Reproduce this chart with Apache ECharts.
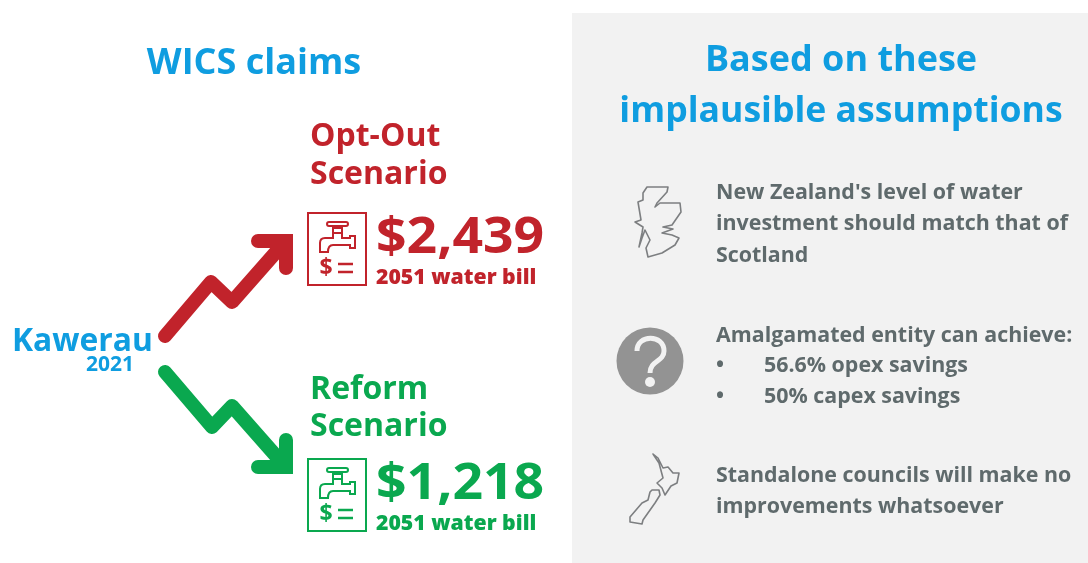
<!DOCTYPE html>
<html>
<head>
<meta charset="utf-8">
<title>WICS claims</title>
<script src="https://cdn.jsdelivr.net/npm/echarts@6/dist/echarts.min.js"></script>
<style>
  html, body { margin: 0; padding: 0; background: #fff; }
  #box { width: 1088px; height: 563px; }
</style>
</head>
<body>
<div id="box"></div>
<script>
// texts
const leftTitle = "WICS claims";
const rightTitle = ["Based on these", "implausible assumptions"];
const place = "Kawerau";
const placeYear = "2021";
const optOutName = ["Opt-Out", "Scenario"];
const reformName = ["Reform", "Scenario"];
const optOutBill = "$2,439";
const reformBill = "$1,218";
const billNote = "2051 water bill";
const scotlandText = ["New Zealand's level of water", "investment should match that of", "Scotland"];
const savingsText = "Amalgamated entity can achieve:";
const savingsBullets = ["56.6% opex savings", "50% capex savings"];
const standaloneText = ["Standalone councils will make no", "improvements whatsoever"];

// colours
const blue = "#0f9de0";
const red = "#c1232b";
const green = "#0aa84f";
const grey = "#5f6a6c";
const panel = "#f2f2f2";
const outline = "#7d7f81";

const font = '"Open Sans", sans-serif';

// the graphic component has no plain "path" type, so the curved shapes get registered
echarts.graphic.registerShape("tapBody", echarts.graphic.extendPath(
  "M12 39 L12 30 Q12 25 17 25 L25 25 L25 20 L34 20 L34 25 L42 25 L42 23 L47 23 L47 35 L42 35 L42 32 L25 32 Q20 32 20 39 Z", {}
));
echarts.graphic.registerShape("questionHook", echarts.graphic.extendPath(
  "M637 351 C637 334 664 334 664 351 C664 362 650 360 650 373", {}
));

function txt(text, x, y, size, color, opts) {
  opts = opts || {};
  return {
    type: "text",
    x: x,
    y: y,
    scaleX: opts.scaleX || 1,
    style: {
      text: text,
      x: 0,
      y: 0,
      fill: color,
      font: (opts.weight || 700) + " " + size + "px " + font,
      textAlign: opts.align || "left",
      textVerticalAlign: "middle",
    },
  };
}

function line(points, color, width, join) {
  return {
    type: "polyline",
    shape: { points: points },
    style: { stroke: color, lineWidth: width, lineCap: "round", lineJoin: join || "round", fill: null },
  };
}

// tap + "$=" bill icon, x/y is the top left of the box
function billIcon(x, y, color) {
  const stroke = { stroke: color, lineWidth: 2, fill: null };
  return {
    type: "group",
    x: x,
    y: y,
    children: [
      { type: "rect", shape: { x: 0, y: 0, width: 58, height: 72 }, style: { stroke: color, lineWidth: 2, fill: null } },
      { type: "rect", shape: { x: 19, y: 9, width: 21, height: 4, r: 2 }, style: stroke },
      { type: "rect", shape: { x: 27, y: 13, width: 5, height: 2 }, style: stroke },
      { type: "rect", shape: { x: 25, y: 15, width: 9, height: 5 }, style: stroke },
      { type: "tapBody", style: stroke },
      { type: "polyline", shape: { points: [[30, 51], [45, 51]] }, style: { stroke: color, lineWidth: 2.5, fill: null } },
      { type: "polyline", shape: { points: [[30, 59], [45, 59]] }, style: { stroke: color, lineWidth: 2.5, fill: null } },
      {
        type: "text",
        style: { text: "$", x: 18, y: 55, fill: color, font: "700 23px " + font, textAlign: "center", textVerticalAlign: "middle" },
      },
    ],
  };
}

const scotlandShape = [[647, 187], [668, 187], [667, 192], [657, 203], [655, 207], [660, 203], [680, 203], [681, 212], [672, 225], [663, 227], [673, 229], [662, 233], [672, 235], [679, 238], [675, 245], [662, 253], [648, 257], [646, 248], [650, 240], [645, 230], [642, 238], [639, 247], [642, 233], [643, 227], [635, 222], [641, 220], [638, 202], [643, 200], [643, 193], [647, 187]];
const nzNorthShape = [[653, 454], [658, 458], [663, 468], [668, 467], [673, 473], [679, 473], [677, 483], [671, 486], [665, 495], [662, 488], [657, 483], [663, 478], [659, 463], [653, 454]];
const nzSouthShape = [[652, 490], [659, 490], [660, 495], [655, 503], [643, 520], [642, 524], [630, 522], [630, 517], [642, 503], [648, 500], [650, 492], [652, 490]];

const elements = [
  // right panel
  { type: "rect", shape: { x: 572, y: 13, width: 516, height: 550 }, style: { fill: panel } },

  txt(leftTitle, 254, 64, 36, blue, { align: "center" }),
  txt(rightTitle[0], 841, 61, 36, blue, { align: "center" }),
  txt(rightTitle[1], 841, 112, 35.6, blue, { align: "center" }),

  txt(place, 12, 342, 31.8, blue),
  txt(placeYear, 110, 365, 21, blue, { align: "center" }),

  // arrows
  line([[165, 336], [211, 282], [232, 302], [284, 243]], red, 14),
  line([[258, 241], [286, 241], [286, 268]], red, 14, "miter"),
  line([[165, 372], [212, 427], [232, 406], [284, 465]], green, 14),
  line([[258, 467], [286, 467], [286, 440]], green, 14, "miter"),

  // opt-out block
  txt(optOutName[0], 310, 137, 32, red),
  txt(optOutName[1], 310, 175, 32, red),
  billIcon(308, 213, red),
  txt(optOutBill, 376, 239, 50, red, { scaleX: 1.07 }),
  txt(billNote, 376, 278, 20.5, red, { weight: 800, scaleX: 1.035 }),

  // reform block
  txt(reformName[0], 310, 390, 32, green),
  txt(reformName[1], 310, 427, 32, green),
  billIcon(308, 459, green),
  txt(reformBill, 376, 485, 50, green, { scaleX: 1.07 }),
  txt(billNote, 376, 524, 20.5, green, { weight: 800, scaleX: 1.035 }),

  // scotland row
  line(scotlandShape, outline, 1.6),
  txt(scotlandText[0], 716, 193, 21.4, grey),
  txt(scotlandText[1], 716, 224, 21.4, grey),
  txt(scotlandText[2], 716, 256, 21.4, grey),

  // question mark row
  { type: "circle", shape: { cx: 650, cy: 361, r: 33.5 }, style: { fill: "#939393" } },
  { type: "questionHook", style: { stroke: panel, lineWidth: 5, fill: null } },
  { type: "circle", shape: { cx: 650, cy: 382, r: 5 }, style: { fill: panel } },
  txt(savingsText, 716, 336, 21.4, grey),
  txt("•", 716, 366, 21.4, grey),
  txt(savingsBullets[0], 764, 366, 21.4, grey),
  txt("•", 716, 397, 21.4, grey),
  txt(savingsBullets[1], 764, 397, 21.4, grey),

  // new zealand row
  line(nzNorthShape, outline, 1.6),
  line(nzSouthShape, outline, 1.6),
  txt(standaloneText[0], 716, 476, 21.4, grey),
  txt(standaloneText[1], 716, 507, 21.4, grey),
];

const myChart = echarts.init(document.getElementById("box"));
myChart.setOption({
  backgroundColor: "#fff",
  animation: false,
  graphic: { elements: elements },
});
</script>
</body>
</html>
